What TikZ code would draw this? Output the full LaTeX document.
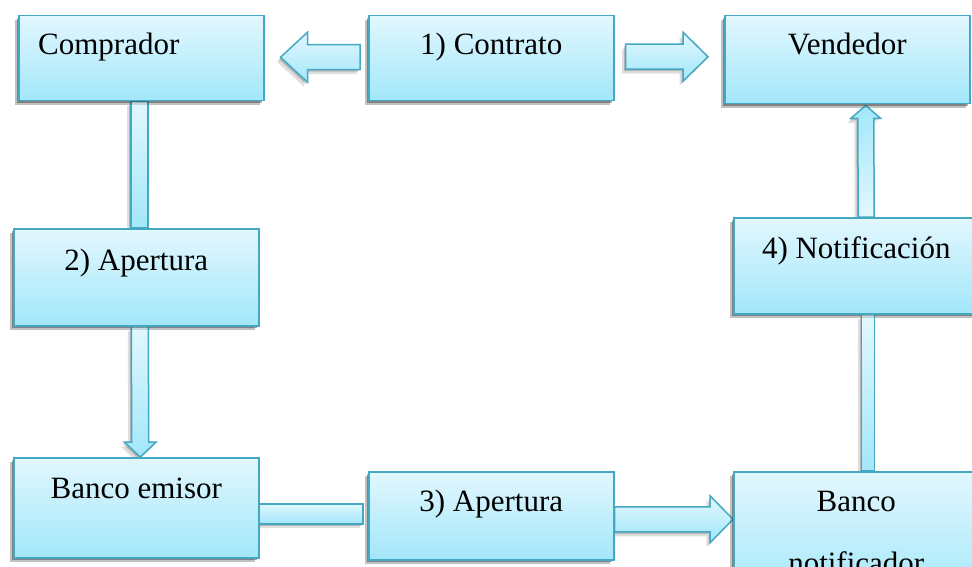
\documentclass[tikz,border=0pt]{standalone}
\usepackage{fontspec}
\setmainfont{Liberation Serif}
\newfontfamily\lblfont{Liberation Serif}
\usetikzlibrary{calc,shadows}

\definecolor{boxtop}{HTML}{E2F7FE}
\definecolor{boxbot}{HTML}{A2E7FA}
\definecolor{boxline}{HTML}{45A8C3}

\tikzset{
  softshadow/.style={
    drop shadow={shadow xshift=-1.5pt,shadow yshift=-2pt,opacity=.18,fill=black},
    drop shadow={shadow xshift=-3.5pt,shadow yshift=-4.5pt,opacity=.13,fill=black}},
  box/.style={rectangle, draw=boxline, line width=1.5pt,
    top color=boxtop, bottom color=boxbot, inner sep=0pt,
    minimum width=245pt, anchor=north west, softshadow},
  barrow/.style={draw=boxline, line width=1.5pt, line join=miter,
    top color=boxtop, bottom color=boxbot, softshadow},
  barrowup/.style={barrow, top color=boxbot, bottom color=boxtop},
  lbl/.style={font=\lblfont\fontsize{31}{37}\selectfont, inner sep=0pt, anchor=base}
}

\begin{document}
\begin{tikzpicture}[x=1pt,y=-1pt]
\useasboundingbox (0,0) rectangle (972,567);
\clip (0,0) rectangle (972,567);

% boxes (placed first so that the connectors can refer to them)
\path
  node[box, minimum height=85pt]  (comprador) at (18,15)   {}
  node[box, minimum height=85pt]  (contrato)  at (368,15)  {}
  node[box, minimum height=88pt]  (vendedor)  at (724,15)  {}
  node[box, minimum height=96pt]  (notif)     at (733,217) {}
  node[box, minimum height=97pt]  (ap2)       at (13,228)  {}
  node[box, minimum height=100pt] (emisor)    at (13,457)  {}
  node[box, minimum height=88pt]  (ap3)       at (368,471) {}
  node[box, minimum height=130pt] (banknot)   at (733,471) {};

% block arrows between the boxes
% 1) contract -> buyer
\coordinate (t1) at ($(comprador.east)+(16,-1)$);
\coordinate (s1) at ($(contrato.west)+(-8,-1)$);
\draw[barrow] (t1) -- ($(t1)+(27,-25)$) -- ($(t1)+(27,-12.5)$)
  -- ($(s1)+(0,-12.5)$) -- ($(s1)+(0,12.5)$) -- ($(t1)+(27,12.5)$)
  -- ($(t1)+(27,25)$) -- cycle;
% 1) contract -> seller
\coordinate (s2) at ($(contrato.east)+(11,-1.5)$);
\coordinate (t2) at ($(contrato.east -| vendedor.west)+(-16,-1.5)$);
\draw[barrow] (t2) -- ($(t2)+(-25,-24.5)$) -- ($(t2)+(-25,-12.5)$)
  -- ($(s2)+(0,-12.5)$) -- ($(s2)+(0,12.5)$) -- ($(t2)+(-25,12.5)$)
  -- ($(t2)+(-25,24.5)$) -- cycle;
% buyer -> 2) opening
\draw[barrow] ($(ap2.north)+(-5.5,0)$) rectangle ($(comprador.south)+(6.5,0)$);
% 2) opening -> issuing bank
\coordinate (t3) at ($(emisor.north)+(4,0)$);
\coordinate (s3) at ($(ap2.south)+(3.5,0)$);
\draw[barrow] (t3) -- ($(t3)+(-16,-15)$) -- ($(t3)+(-8.5,-15)$)
  -- ($(s3)+(-8.5,0)$) -- ($(s3)+(8.5,0)$) -- ($(t3)+(8.5,-15)$)
  -- ($(t3)+(16,-15)$) -- cycle;
% issuing bank -> 3) opening
\draw[barrow] ($(emisor.east)+(0,-4)$) rectangle ($(ap3.west)+(-5,8)$);
% 3) opening -> advising bank
\coordinate (s4) at ($(ap3.east)+(0,3.5)$);
\coordinate (t4) at ($(ap3.east -| banknot.west)+(0,3.5)$);
\draw[barrow] (t4) -- ($(t4)+(-23,-23.5)$) -- ($(t4)+(-23,-12.5)$)
  -- ($(s4)+(0,-12.5)$) -- ($(s4)+(0,12.5)$) -- ($(t4)+(-23,12.5)$)
  -- ($(t4)+(-23,23.5)$) -- cycle;
% advising bank -> 4) notification
\draw[barrow] ($(banknot.north)+(5,0)$) rectangle ($(notif.south)+(18,0)$);
% 4) notification -> seller
\coordinate (t5) at ($(vendedor.south)+(18.5,1)$);
\coordinate (s5) at ($(notif.north)+(10,0)$);
\draw[barrowup] (t5) -- ($(t5)+(-15,13)$) -- ($(t5)+(-8,13)$)
  -- ($(s5)+(-8,0)$) -- ($(s5)+(8,0)$) -- ($(t5)+(8,13)$)
  -- ($(t5)+(15,13)$) -- cycle;

% boxes drawn again on top so the connector ends tuck under them
\path
  node[box, minimum height=85pt]  at (comprador.north west) {}
  node[box, minimum height=85pt]  at (contrato.north west)  {}
  node[box, minimum height=88pt]  at (vendedor.north west)  {}
  node[box, minimum height=96pt]  at (notif.north west)     {}
  node[box, minimum height=97pt]  at (ap2.north west)       {}
  node[box, minimum height=100pt] at (emisor.north west)    {}
  node[box, minimum height=88pt]  at (ap3.north west)       {}
  node[box, minimum height=130pt] at (banknot.north west)   {};

% labels
\node[lbl, anchor=base west] (lcomprador) at ($(comprador.north west)+(20,40)$) {Comprador};
\node[lbl] (lcontrato) at ($(contrato.north)+(0,40)$) {1) Contrato};
\node[lbl] (lvendedor) at ($(vendedor.north)+(0,40)$) {Vendedor};
\node[lbl] (lnotif)    at ($(notif.north)+(0,41)$) {4) Notificación};
\node[lbl] (lap2)      at ($(ap2.north)+(0,42)$) {2) Apertura};
\node[lbl] (lemisor)   at ($(emisor.north)+(0,41)$) {Banco emisor};
\node[lbl] (lap3)      at ($(ap3.north)+(0,40)$) {3) Apertura};
\node[lbl] (lbanco)    at ($(banknot.north)+(0,40)$) {Banco};
\node[lbl] (lnotific)  at ($(banknot.north)+(0,102)$) {notificador};
\end{tikzpicture}
\end{document}
